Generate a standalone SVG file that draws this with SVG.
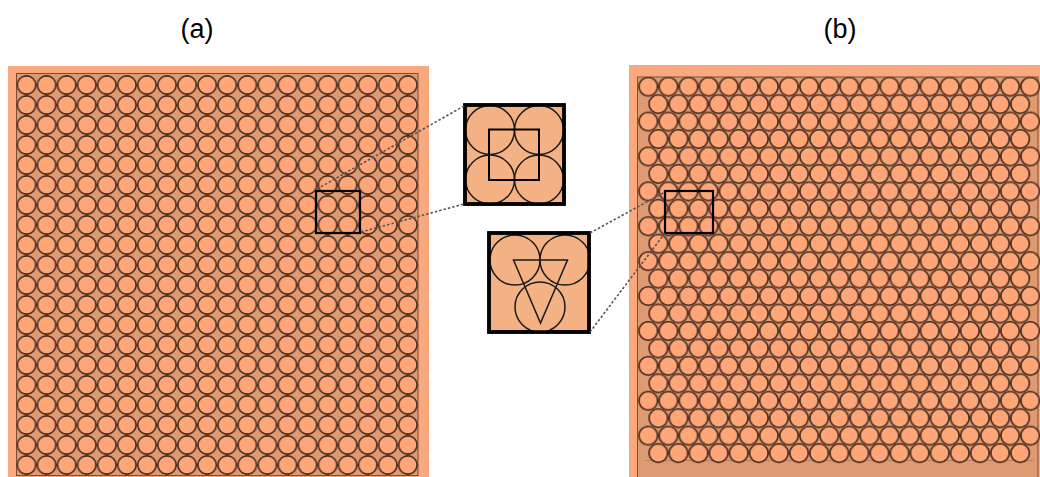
<svg xmlns="http://www.w3.org/2000/svg" width="1040" height="477" viewBox="0 0 1040 477">
<style>
.lbl{font-family:"Liberation Sans",Arial,sans-serif;font-size:27px;fill:#000;text-anchor:middle}
.frame{fill:#FAA97E}
.inner{fill:#DE9A70;stroke:#7A4E36;stroke-width:1}
.cell{fill:#FFA679;stroke:#4E3022;stroke-width:1.7}
.box{fill:none;stroke:#000;stroke-width:2.2}
.inset{fill:#F4B183;stroke:#000;stroke-width:3.5}
.ic{fill:#F4B183;stroke:#1a1a1a;stroke-width:1.5}
.geo{fill:none;stroke:#000;stroke-width:2}
.geo2{fill:none;stroke:#1a1a1a;stroke-width:1.5}
.dot{stroke:#555;stroke-width:1.6;stroke-dasharray:2.5 2;fill:none}
</style>
<defs>
<pattern id="sq" patternUnits="userSpaceOnUse" x="16.5" y="75" width="20.07" height="20">
<circle class="cell" cx="10.035" cy="10" r="9.2"/>
</pattern>
<pattern id="hexA" patternUnits="userSpaceOnUse" x="638.25" y="76.7" width="20.1" height="34.9">
<circle class="cell" cx="10.05" cy="10" r="9.25"/>
</pattern>
<pattern id="hexB" patternUnits="userSpaceOnUse" x="648.3" y="94.15" width="20.1" height="34.9">
<circle class="cell" cx="10.05" cy="10" r="9.25"/>
</pattern>
</defs>
<rect width="1040" height="477" fill="#fff"/>
<text class="lbl" x="197" y="38">(a)</text>
<text class="lbl" x="840" y="38">(b)</text>
<g id="panel-a">
<rect class="frame" x="8" y="66" width="421" height="411"/>
<rect class="inner" x="16.5" y="73.5" width="401.5" height="402"/>
<rect x="16.5" y="75" width="401.4" height="400" fill="url(#sq)"/>
<rect id="box-a" class="box" x="316" y="191" width="44" height="42"/>
</g>
<g id="panel-b">
<rect class="frame" x="629" y="65" width="411" height="412"/>
<rect class="inner" x="637.5" y="77" width="400.5" height="401" fill="#E49D74"/>
<rect x="638.25" y="76.7" width="402" height="383.9" fill="url(#hexA)"/>
<rect x="648.3" y="94.15" width="381.9" height="383.9" fill="url(#hexB)"/>
<rect id="box-b" class="box" x="665" y="191" width="48" height="42"/>
</g>
<g id="inset-square">
<rect class="inset" x="465" y="105" width="99" height="99"/>
<circle class="ic" cx="490" cy="130" r="24.5"/>
<circle class="ic" cx="539" cy="130" r="24.5"/>
<circle class="ic" cx="490" cy="179.5" r="24.5"/>
<circle class="ic" cx="539" cy="179.5" r="24.5"/>
<rect class="geo" x="489" y="129.5" width="50" height="50.5"/>
<rect fill="none" stroke="#000" stroke-width="3.5" x="465" y="105" width="99" height="99"/>
</g>
<g id="inset-hex">
<rect class="inset" x="489" y="233" width="100" height="99"/>
<circle class="ic" cx="515" cy="260" r="25"/>
<circle class="ic" cx="565" cy="260" r="25"/>
<circle class="ic" cx="540" cy="307" r="25"/>
<polygon class="geo2" points="513.5,260 567.5,260 540.5,323"/>
<rect fill="none" stroke="#000" stroke-width="3.5" x="489" y="233" width="100" height="99"/>
</g>
<g id="connectors">
<line class="dot" x1="317" y1="189" x2="464" y2="106"/>
<line class="dot" x1="361" y1="232" x2="464" y2="204"/>
<line class="dot" x1="590" y1="233" x2="665" y2="192"/>
<line class="dot" x1="590" y1="332" x2="665" y2="233"/>
</g>
</svg>
